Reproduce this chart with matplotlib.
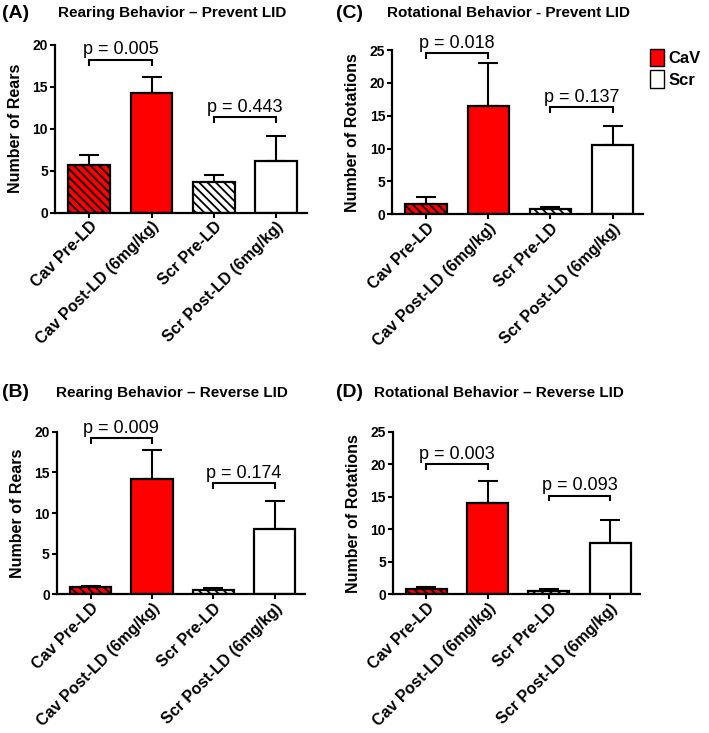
import matplotlib
matplotlib.use('Agg')
import matplotlib.pyplot as plt
from matplotlib.patches import Patch
import numpy as np

plt.rcParams['font.family'] = ['Liberation Sans', 'DejaVu Sans']
plt.rcParams['hatch.linewidth'] = 1.3

groups = ['Cav Pre-LD', 'Cav Post-LD (6mg/kg)', 'Scr Pre-LD', 'Scr Post-LD (6mg/kg)']

# means and upper SEM
rear_prevent = [5.7, 14.3, 3.6, 6.2]
rear_prevent_err = [1.1, 1.8, 0.9, 2.9]
rot_prevent = [1.6, 16.5, 0.8, 10.6]
rot_prevent_err = [1.0, 6.5, 0.3, 2.9]
rear_reverse = [0.9, 14.2, 0.6, 8.0]
rear_reverse_err = [0.2, 3.5, 0.2, 3.5]
rot_reverse = [0.9, 14.1, 0.6, 7.9]
rot_reverse_err = [0.2, 3.4, 0.2, 3.6]

# p-values with bracket heights (data units)
p_rear_prevent = [('p = 0.005', 18.2), ('p = 0.443', 11.4)]
p_rot_prevent = [('p = 0.018', 24.5), ('p = 0.137', 16.3)]
p_rear_reverse = [('p = 0.009', 19.2), ('p = 0.174', 13.7)]
p_rot_reverse = [('p = 0.003', 20.0), ('p = 0.093', 15.2)]

colors = ['red', 'red', 'white', 'white']
hatches = ['\\\\\\\\', '', '\\\\\\\\', '']

fig = plt.figure(figsize=(7.09, 7.33), dpi=100)


def panel(rect, vals, errs, pvals, ymax, ylabel, letter, title, title_x, title_y, left):
    ax = fig.add_axes(rect)
    x = np.arange(len(groups))
    ax.bar(x, vals, width=0.67, color=colors, edgecolor='black', linewidth=1.6,
           hatch=hatches, zorder=2)
    ax.errorbar(x, vals, yerr=[np.zeros(4), errs], fmt='none', ecolor='black',
                elinewidth=1.5, capsize=7.5, capthick=1.5, zorder=1)
    ax.set_xlim(-0.55, 3.49)
    ax.set_ylim(0, ymax)
    ax.set_yticks(np.arange(0, ymax + 1, 5))
    ax.set_xticks(x)
    ax.set_xticklabels(groups, rotation=45, ha='right', rotation_mode='anchor',
                       fontsize=11.5, fontweight='bold')
    for lab in ax.get_yticklabels():
        lab.set_fontweight('bold')
        lab.set_fontsize(10)
    ax.tick_params(width=1.5, length=3.5, pad=1.5)
    ax.tick_params(axis='x', pad=1)
    for s in ['top', 'right']:
        ax.spines[s].set_visible(False)
    for s in ['left', 'bottom']:
        ax.spines[s].set_linewidth(1.6)
    ax.set_ylabel(ylabel, fontsize=11.5, fontweight='bold', labelpad=7)
    drop = ymax * 0.03
    for (txt, h), (i, j) in zip(pvals, [(0, 1), (2, 3)]):
        ax.plot([i, i, j, j], [h - drop, h, h, h - drop], color='black', lw=1.5,
                clip_on=False, solid_joinstyle='miter')
        ax.annotate(txt, ((i + j) / 2, h), xytext=(0, 1), textcoords='offset points',
                    ha='center', va='bottom', fontsize=13)
    fig.text(left, title_y, letter, fontsize=14, fontweight='bold', va='center')
    fig.text(title_x, title_y, title, fontsize=11, fontweight='bold', va='center', ha='center')
    return ax


panel([0.0776, 0.710, 0.355, 0.229], rear_prevent, rear_prevent_err, p_rear_prevent, 20,
      'Number of Rears', '(A)', 'Rearing Behavior \u2013 Prevent LID', 0.243, 0.982, 0.003)
panel([0.553, 0.7076, 0.354, 0.224], rot_prevent, rot_prevent_err, p_rot_prevent, 25,
      'Number of Rotations', '(C)', 'Rotational Behavior - Prevent LID', 0.717, 0.982, 0.474)
panel([0.080, 0.189, 0.350, 0.222], rear_reverse, rear_reverse_err, p_rear_reverse, 20,
      'Number of Rears', '(B)', 'Rearing Behavior \u2013 Reverse LID', 0.242, 0.464, 0.003)
panel([0.554, 0.189, 0.349, 0.222], rot_reverse, rot_reverse_err, p_rot_reverse, 25,
      'Number of Rotations', '(D)', 'Rotational Behavior \u2013 Reverse LID', 0.704, 0.464, 0.474)

handles = [Patch(facecolor='red', edgecolor='black', linewidth=1.0, label='CaV'),
           Patch(facecolor='white', edgecolor='black', linewidth=1.0, label='Scr')]
fig.legend(handles=handles, loc='upper left', bbox_to_anchor=(0.905, 0.945), frameon=False,
           handlelength=0.85, handleheight=1.25, handletextpad=0.25, labelspacing=0.25,
           borderpad=0, prop={'weight': 'bold', 'size': 12})

fig.savefig('out.png', dpi=100)
